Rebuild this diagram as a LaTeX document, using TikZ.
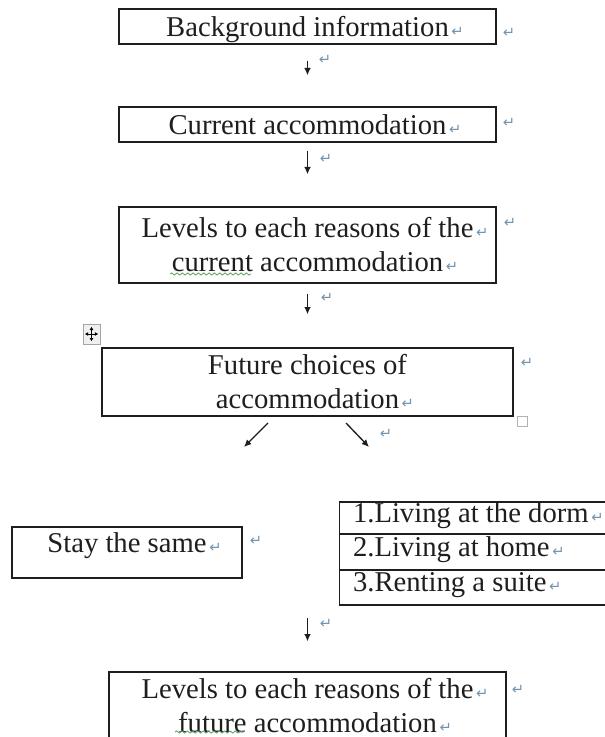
\documentclass[tikz,border=0pt]{standalone}
\usepackage{fontspec}
\setmainfont{Liberation Serif}
\newfontfamily\markfont{DejaVu Sans}
\usetikzlibrary{positioning,arrows.meta,decorations.pathmorphing}
\definecolor{inkline}{HTML}{1E1E1E}
\definecolor{markblue}{HTML}{7494AE}
\definecolor{spellgreen}{HTML}{5DA05D}
\newcommand{\parmark}{{\markfont\fontsize{11}{11}\selectfont\color{markblue}↵}}
\newcommand{\tailmark}{\rlap{\kern2pt\parmark}}

\begin{document}
\begin{tikzpicture}[x=0.75pt, y=-0.75pt,
    every node/.style={font=\fontsize{21.5}{25.5}\selectfont, text=inkline},
    box/.style={draw=inkline, line width=1pt, inner sep=2pt},
    oneline/.style={text height=17pt, text depth=2pt},
    rowbox/.style={box, anchor=west, text width=205pt, inner xsep=10pt, align=flush left, text height=13pt, text depth=7pt},
    flowarrow/.style={draw=inkline, line width=1pt, -{Latex[length=5.5pt,width=5pt]}},
    spellwave/.style={spellgreen, line width=0.6pt, decorate, decoration={snake, segment length=4pt, amplitude=0.8pt}}]
    % Page
    \useasboundingbox (0,0) rectangle (605,737);
    \clip (0,0) rectangle (605,737);
    \fill[white] (0,0) rectangle (605,737);

    % Main boxes
    \node[box, oneline, minimum width=282.75pt, minimum height=26.25pt] (bg) at (307.5,26.5) {Background information\tailmark};
    \node[box, oneline, minimum width=282.75pt, minimum height=26.25pt] (cur) at (307.5,124.5) {Current accommodation\tailmark};
    \node[box, align=center, minimum width=282.75pt, minimum height=57pt] (lvlcur) at (307.5,245) {Levels to each reasons of the\tailmark\\current accommodation\tailmark};
    \node[box, align=center, minimum width=308.25pt, minimum height=51pt] (fut) at (307.5,382) {Future choices of\\accommodation\tailmark};

    % Two ways
    \node[box, minimum width=172.5pt, minimum height=38.25pt, text height=8pt, text depth=8pt] (stay) at (127,552.5) {Stay the same\tailmark};
    \node[rowbox, minimum height=24pt] (dorm) at (339,518) {1.Living at the dorm\tailmark};
    \node[rowbox, minimum height=27pt] (home) at (339,552) {2.Living at home\tailmark};
    \node[rowbox, minimum height=26.25pt] (suite) at (339,587.5) {3.Renting a suite\tailmark};

    % Last box
    \node[box, align=center, minimum width=297.75pt, minimum height=51pt] (lvlfut) at (307.5,706) {Levels to each reasons of the\tailmark\\future accommodation\tailmark};

    % Arrows
    \draw[flowarrow, shorten <=12pt, shorten >=23.25pt] (bg) -- (cur);
    \draw[flowarrow, shorten <=6pt, shorten >=24pt] (cur) -- (lvlcur);
    \draw[flowarrow, shorten <=7.5pt, shorten >=24.75pt] (lvlcur) -- (fut);
    \coordinate (ltail) at (268,423);
    \coordinate (lhead) at (244,447);
    \coordinate (rtail) at (346,423);
    \coordinate (rhead) at (369,447);
    \draw[flowarrow] (ltail) -- (lhead);
    \draw[flowarrow] (rtail) -- (rhead);
    \coordinate (btail) at (307.5,618);
    \draw[flowarrow, shorten >=22.5pt] (btail) -- (lvlfut.north);

    % Spelling marks
    \draw[spellwave] (170,274) -- (251,274);
    \draw[spellwave] (175,732) -- (244,732);

    % Table handles
    \node[draw=gray!70, fill=gray!12, minimum width=12.75pt, minimum height=15pt, inner sep=0pt] (mover) at (91.5,334) {};
    \draw[line width=0.6pt, {Latex[length=2.5pt,width=3pt]}-{Latex[length=2.5pt,width=3pt]}] ([yshift=-5.5pt]mover.center) -- ([yshift=5.5pt]mover.center);
    \draw[line width=0.6pt, {Latex[length=2.5pt,width=3pt]}-{Latex[length=2.5pt,width=3pt]}] ([xshift=-5pt]mover.center) -- ([xshift=5pt]mover.center);
    \node[draw=gray!60, fill=white, minimum size=7.5pt, inner sep=0pt] (corner) at (522,421) {};

    % Paragraph marks
    \foreach \mx/\my [count=\i] in {509/33, 325/60, 509/123, 326/159, 510/223, 327/298,
        527/363, 386/434, 256/541, 326/624, 518/690}
        \node[inner sep=0pt] (pm\i) at (\mx,\my) {\parmark};
\end{tikzpicture}
\end{document}
